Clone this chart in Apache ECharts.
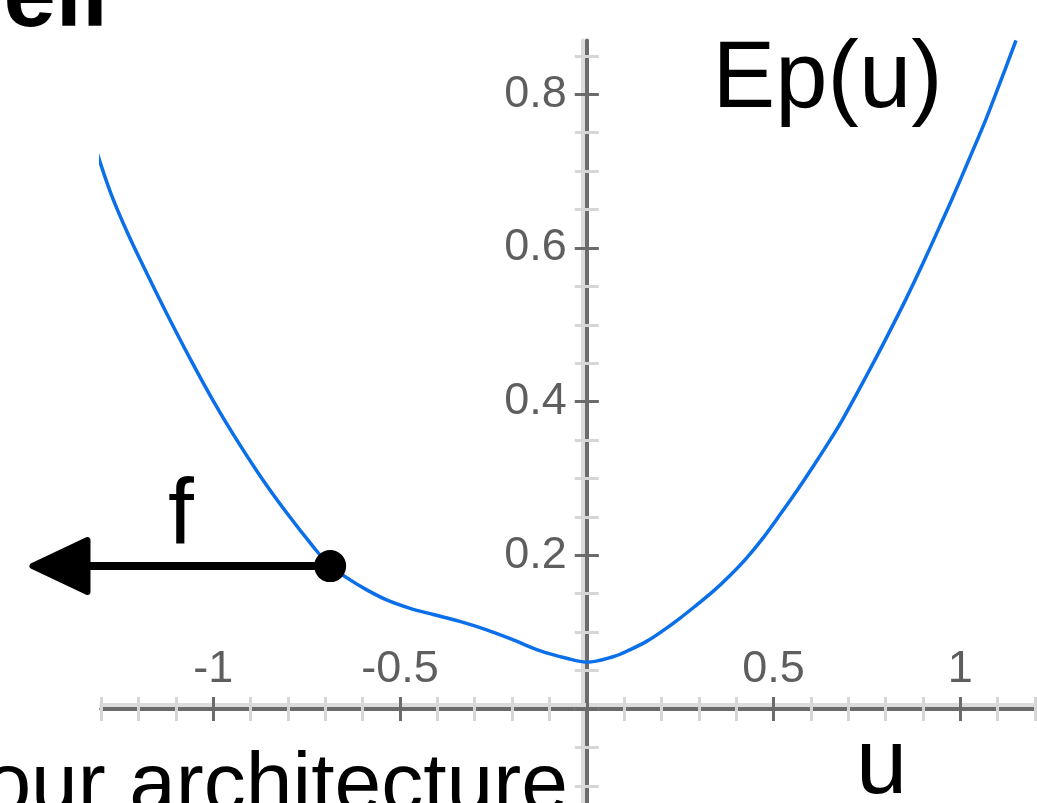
<!DOCTYPE html>
<html>
<head>
<meta charset="utf-8">
<script src="https://cdn.jsdelivr.net/npm/echarts@6/dist/echarts.min.js"></script>
<style>
  html, body { margin: 0; padding: 0; background: #fff; }
  #chart { width: 1037px; height: 803px; }
</style>
</head>
<body>
<div id="chart"></div>
<script>
// courbe Ep(u)
const uValues = [-1.31, -1.275, -1.23, -1.177, -1.124, -1.061, -1.0, -0.946, -0.874, -0.803, -0.732, -0.687,
  -0.643, -0.589, -0.536, -0.473, -0.411, -0.34, -0.268, -0.197, -0.126, -0.054, 0, 0.07, 0.115, 0.16,
  0.204, 0.249, 0.293, 0.338, 0.382, 0.427, 0.471, 0.516, 0.561, 0.605, 0.641, 0.685, 0.748, 0.801,
  0.855, 0.899, 0.944, 0.979, 1.024, 1.069, 1.104, 1.149]
const epValues = [0.722, 0.672, 0.620, 0.566, 0.514, 0.455, 0.401, 0.357, 0.303, 0.255, 0.211, 0.186,
  0.171, 0.155, 0.142, 0.131, 0.123, 0.114, 0.103, 0.090, 0.076, 0.066, 0.061, 0.068, 0.077, 0.088,
  0.102, 0.118, 0.135, 0.153, 0.173, 0.196, 0.222, 0.252, 0.283, 0.315, 0.342, 0.377, 0.433, 0.482,
  0.534, 0.579, 0.627, 0.665, 0.716, 0.768, 0.812, 0.870]

// point d'application de la force f
const pointU = -0.687
const pointEp = 0.186
const arrowTipU = -1.492

// graduations
const xTickLabels = ['-1', '-0.5', '0.5', '1']
const yTickLabels = ['0.2', '0.4', '0.6', '0.8']
const yMinorTicks = [-0.15, -0.1, -0.05, 0, 0.05, 0.1, 0.15, 0.2, 0.25, 0.3, 0.35, 0.4, 0.45, 0.5, 0.55,
  0.6, 0.65, 0.7, 0.75, 0.8, 0.85]

const chart = echarts.init(document.getElementById('chart'))

const FONT = 'Liberation Sans, Arial, sans-serif'
const axisColor = '#6b6b6b'
const minorTick = { show: true, length: 12, lineStyle: { color: '#d6d6d6', width: 3 } }
const majorTick = { show: true, length: 12, lineStyle: { color: axisColor, width: 3 } }
const labelStyle = { fontFamily: FONT, fontSize: 45, color: '#5e5e5e' }
const noSplit = { show: false }

const fmt = list => v => {
  const s = String(+v.toFixed(2))
  return list.indexOf(s) >= 0 ? s : ''
}

const option = {
  animation: false,
  backgroundColor: '#fff',
  grid: [
    // grille des données + graduations fines
    { left: 101.2, top: 40.4, width: 971.2, height: 783.9, containLabel: false, outerBoundsMode: 'none' },
    // graduations principales de u
    { left: 213.3, top: 94.2, width: 747, height: 614.8, containLabel: false, outerBoundsMode: 'none' },
    // graduations principales de Ep
    { left: 586.8, top: 94.2, width: 373.5, height: 614.8, containLabel: false, outerBoundsMode: 'none' }
  ],
  xAxis: [
    { gridIndex: 0, type: 'value', min: -1.3, max: 1.3, interval: 0.1, position: 'bottom',
      axisLine: { show: true, onZero: true, onZeroAxisIndex: 0,
        lineStyle: { color: axisColor, width: 4, shadowColor: '#dcdcdc', shadowOffsetY: -4 } },
      axisTick: Object.assign({}, minorTick, { inside: true }), axisLabel: { show: false }, splitLine: noSplit, z: 1 },
    { gridIndex: 0, type: 'value', min: -1.3, max: 1.3, interval: 0.1, position: 'bottom',
      axisLine: { show: false, onZero: true, onZeroAxisIndex: 0 },
      axisTick: Object.assign({}, minorTick, { inside: false }), axisLabel: { show: false }, splitLine: noSplit, z: 1 },
    { gridIndex: 1, type: 'value', min: -1, max: 1, interval: 0.5, position: 'bottom',
      axisLine: { show: false, onZero: false },
      axisTick: Object.assign({}, majorTick, { inside: true }),
      axisLabel: Object.assign({ inside: true, margin: 17, formatter: fmt(xTickLabels) }, labelStyle),
      splitLine: noSplit, z: 3 },
    { gridIndex: 1, type: 'value', min: -1, max: 1, interval: 0.5, position: 'bottom',
      axisLine: { show: false, onZero: false },
      axisTick: Object.assign({}, majorTick, { inside: false }), axisLabel: { show: false }, splitLine: noSplit, z: 3 },
    { gridIndex: 2, type: 'value', min: 0, max: 1, show: false }
  ],
  yAxis: [
    { gridIndex: 0, type: 'value', min: -0.15, max: 0.87, interval: 0.05, position: 'left',
      axisLine: { show: true, onZero: true, onZeroAxisIndex: 0,
        lineStyle: { color: axisColor, width: 4, shadowColor: '#dcdcdc', shadowOffsetX: -4 } },
      axisTick: Object.assign({}, minorTick, { inside: true, customValues: yMinorTicks }),
      axisLabel: { show: false }, splitLine: noSplit, z: 1 },
    { gridIndex: 0, type: 'value', min: -0.15, max: 0.87, interval: 0.05, position: 'left',
      axisLine: { show: false, onZero: true, onZeroAxisIndex: 0 },
      axisTick: Object.assign({}, minorTick, { inside: false, customValues: yMinorTicks }),
      axisLabel: { show: false }, splitLine: noSplit, z: 1 },
    { gridIndex: 2, type: 'value', min: 0, max: 0.8, interval: 0.2, position: 'left',
      axisLine: { show: false, onZero: false },
      axisTick: Object.assign({}, majorTick, { inside: true }),
      axisLabel: Object.assign({ margin: 20, formatter: fmt(yTickLabels) }, labelStyle),
      splitLine: noSplit, z: 3 },
    { gridIndex: 2, type: 'value', min: 0, max: 0.8, interval: 0.2, position: 'left',
      axisLine: { show: false, onZero: false },
      axisTick: Object.assign({}, majorTick, { inside: false }), axisLabel: { show: false }, splitLine: noSplit, z: 3 },
    { gridIndex: 1, type: 'value', min: 0, max: 0.8, show: false }
  ],
  series: [
    { name: 'Ep(u)', type: 'line', xAxisIndex: 0, yAxisIndex: 0,
      data: uValues.map((u, i) => [u, epValues[i]]),
      smooth: 0.35, symbol: 'none', clip: false, silent: true,
      lineStyle: { color: '#0a6fe8', width: 3.5 }, z: 4 },
    { type: 'scatter', xAxisIndex: 0, yAxisIndex: 0, data: [[pointU, pointEp]],
      symbolSize: 32, itemStyle: { color: '#000', opacity: 1 }, silent: true, z: 6 }
  ]
}
chart.setOption(option)

// flèche f (positionnée via l'échelle des axes)
const p0 = chart.convertToPixel({ xAxisIndex: 0, yAxisIndex: 0 }, [pointU, pointEp])
const p1 = chart.convertToPixel({ xAxisIndex: 0, yAxisIndex: 0 }, [arrowTipU, pointEp])
const headLen = 58
const headHalf = 26

chart.setOption({
  graphic: [
    { type: 'polyline', z: 5, shape: { points: [[p1[0] + headLen - 4, p1[1]], [p0[0], p0[1]]] },
      style: { stroke: '#000', lineWidth: 8, fill: null } },
    { type: 'polygon', z: 5,
      shape: { points: [[p1[0] + 3, p1[1]], [p1[0] + headLen, p1[1] - headHalf], [p1[0] + headLen, p1[1] + headHalf]] },
      style: { fill: '#000', stroke: '#000', lineWidth: 6, lineJoin: 'round' } },
    { type: 'text', z: 10, x: 168, y: 517.8,
      style: { text: 'f', font: '93px ' + FONT, fill: '#000', verticalAlign: 'middle' } },
    { type: 'text', z: 10, x: 712.6, y: 81.4,
      style: { text: 'Ep(u)', font: '94px ' + FONT, fill: '#000', verticalAlign: 'middle' } },
    { type: 'text', z: 10, x: 856, y: 768,
      style: { text: 'u', font: '92px ' + FONT, fill: '#000', verticalAlign: 'middle' } },
    { type: 'text', z: 10, x: 568, y: 788,
      style: { text: 'our architecture', font: '84px ' + FONT, fill: '#000', align: 'right', verticalAlign: 'middle' } },
    { type: 'text', z: 10, x: 3.5, y: 0,
      style: { text: 'ell', font: 'bold 94px ' + FONT, fill: '#000', verticalAlign: 'middle' } }
  ]
})
</script>
</body>
</html>
